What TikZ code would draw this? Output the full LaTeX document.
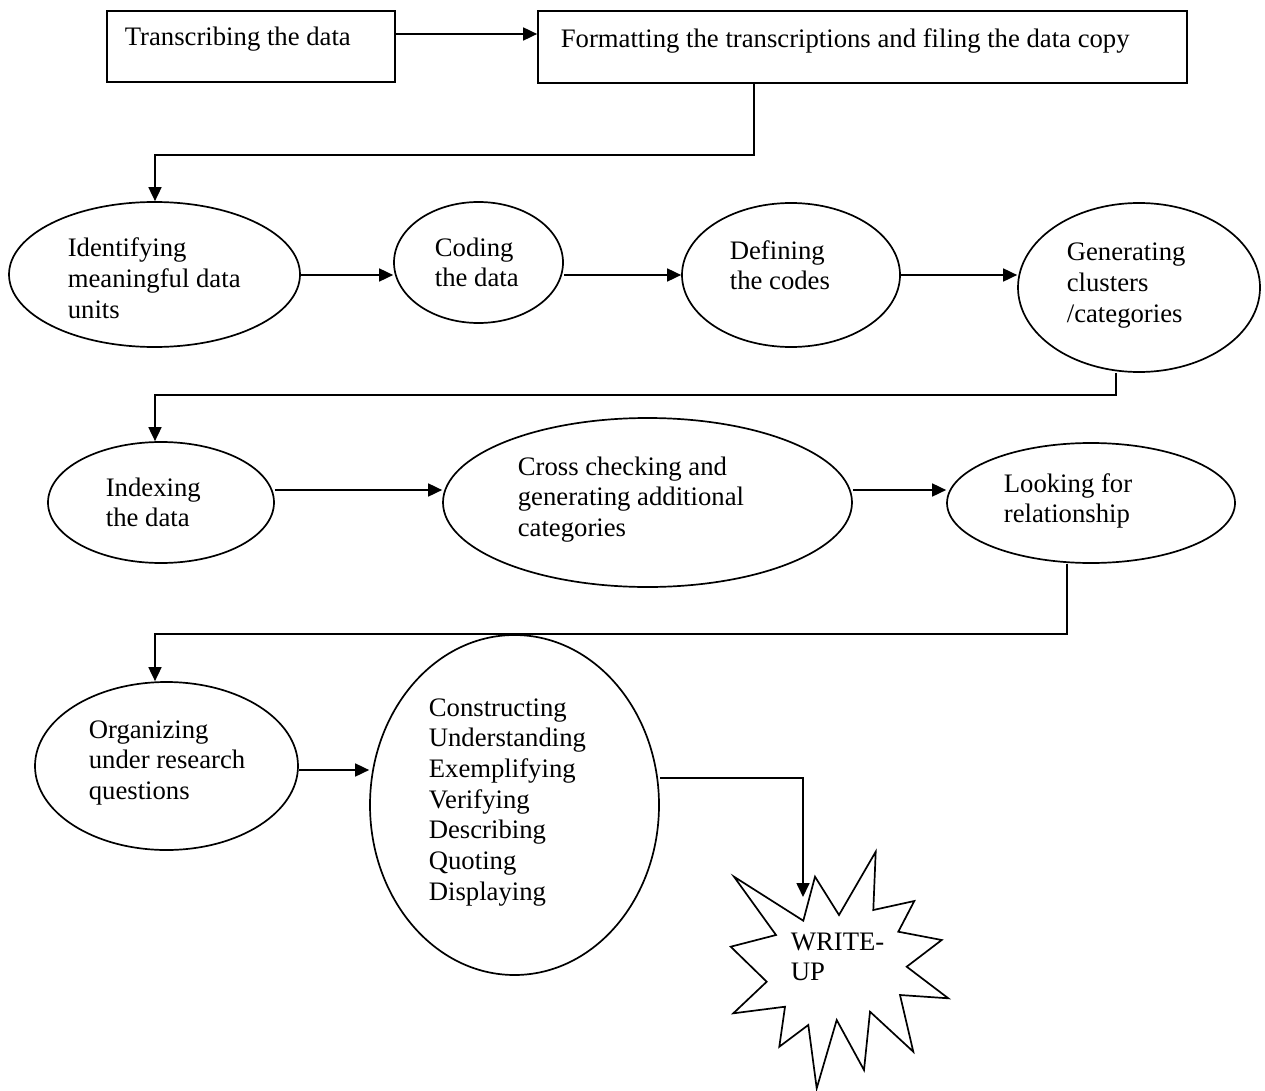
\documentclass[tikz,border=0pt]{standalone}
\usepackage{fontspec}
\setmainfont{Liberation Serif}
\usetikzlibrary{shapes.geometric,arrows.meta}
\newcommand{\mylines}[1]{\begin{tabular}[t]{@{}l@{}}#1\end{tabular}}
\tikzset{
  every picture/.style={line width=1.7pt},
  stepbox/.style={draw, rectangle, inner sep=0pt},
  ell/.style={draw, ellipse, inner sep=0pt},
  txt/.style={anchor=base west, inner sep=0pt, font=\fontsize{26.7}{30.7}\selectfont},
  arr/.style={-{Triangle[length=14pt,width=13pt]}},
}
\begin{document}
\begin{tikzpicture}[x=1pt,y=-1pt]
\useasboundingbox (0,0) rectangle (1265,1091);
% boxes
\node[stepbox, minimum width=288, minimum height=71] (b1) at (251,46.5) {};
\node[stepbox, minimum width=649, minimum height=72] (b2) at (862.5,47) {};
\node[txt] (tb1) at (124,46) {Transcribing the data};
\node[txt] (tb2) at (560,48) {Formatting the transcriptions and filing the data copy};
% ellipses row 2
\node[ell, minimum width=291, minimum height=145] (A) at (154.5,274.5) {};
\node[ell, minimum width=169, minimum height=121] (B) at (478.5,262.5) {};
\node[ell, minimum width=218, minimum height=144] (C) at (791,275) {};
\node[ell, minimum width=242, minimum height=169] (D) at (1139,287.5) {};
\node[txt] (tA) at (67,257) {\mylines{Identifying\\meaningful data\\units}};
\node[txt] (tB) at (434,256) {\mylines{Coding\\the data}};
\node[txt] (tC) at (729,259) {\mylines{Defining\\the codes}};
\node[txt] (tD) at (1066,261) {\mylines{Generating\\clusters\\/categories}};
% row 3
\node[ell, minimum width=226, minimum height=121] (E) at (161,502.5) {};
\node[ell, minimum width=409, minimum height=169] (F) at (647.5,502.5) {};
\node[ell, minimum width=288, minimum height=120] (G) at (1091,503) {};
\node[txt] (tE) at (105,496) {\mylines{Indexing\\the data}};
\node[txt] (tF) at (517,475) {\mylines{Cross checking and\\generating additional\\categories}};
\node[txt] (tG) at (1003,492) {\mylines{Looking for\\relationship}};
% row 4
\node[ell, minimum width=263, minimum height=168] (H) at (166.5,766) {};
\node[ell, minimum width=289, minimum height=340] (I) at (514.5,805) {};
\node[txt] (tH) at (88,738) {\mylines{Organizing\\under research\\questions}};
\node[txt] (tI) at (428,716) {\mylines{Constructing\\Understanding\\Exemplifying\\Verifying\\Describing\\Quoting\\Displaying}};
% star
\draw (734,876.7) -- (803.3,920.7) -- (815,876.7) -- (839,915) -- (875.7,851.7)
  -- (873.3,910) -- (914.3,901) -- (898.3,931.7) -- (941.7,940) -- (906.7,966.7)
  -- (948.3,998.3) -- (900,995) -- (913.3,1051.7) -- (870,1011.7) -- (864,1070)
  -- (836.7,1020) -- (816.7,1088.3) -- (808.3,1025) -- (779.3,1046.7) -- (785,1006.7)
  -- (733.3,1013.3) -- (766.7,981.7) -- (730.7,946.7) -- (776,935) -- cycle;
\node[txt] (tS) at (790,950) {\mylines{WRITE-\\UP}};
% coordinates for elbow connectors
\coordinate (k1a) at (754,155);
\coordinate (k1b) at (155,155);
\coordinate (k2a) at (1116,395);
\coordinate (k2b) at (155,395);
\coordinate (k3a) at (1067,634);
\coordinate (k3b) at (155,634);
\coordinate (k4a) at (803,778);
\coordinate (stip) at (803,897);
% connectors
\draw[arr] ([yshift=12.5pt]b1.east) -- ([yshift=12.5pt]b1.east -| b2.west);
\draw[arr] (b2.south -| k1a) -- (k1a) -- (k1b) -- (A.north -| k1b);
\draw[arr] ([yshift=-0.5pt]A.east) -- ([yshift=-0.5pt]A.east -| B.west);
\draw[arr] (B.east |- C.west) -- (C.west);
\draw[arr] (C.east) -- (C.east -| D.west);
\draw[arr] (D.south -| k2a) -- (k2a) -- (k2b) -- (E.north -| k2b);
\draw[arr] ([yshift=12.5pt]E.east) -- ([yshift=12.5pt]E.east -| F.west);
\draw[arr] ([yshift=12.5pt]F.east) -- ([yshift=12.5pt]F.east -| G.west);
\draw[arr] (G.south -| k3a) -- (k3a) -- (k3b) -- (H.north -| k3b);
\draw[arr] ([yshift=-4pt]H.east) -- ([yshift=-4pt]H.east -| I.west);
\draw[arr] ([yshift=27pt]I.east) -- (k4a) -- (stip);
\end{tikzpicture}
\end{document}
